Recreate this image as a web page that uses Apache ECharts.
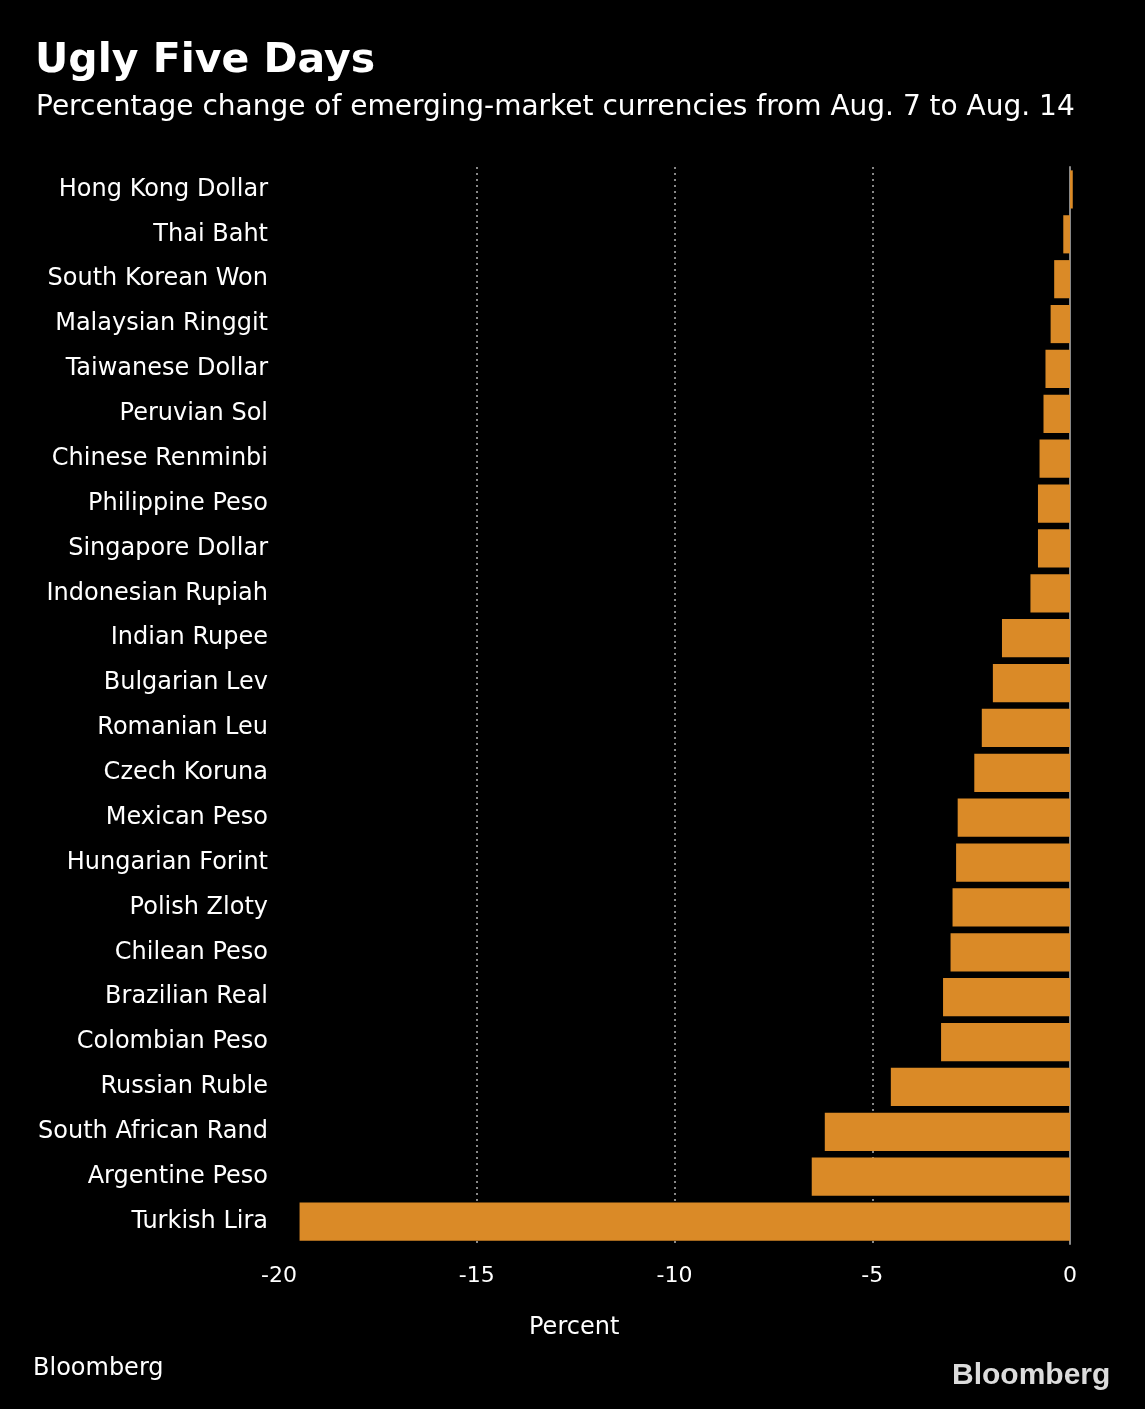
<!DOCTYPE html>
<html>
<head>
    <meta charset="utf-8"/>
    <title>Ugly Five Days</title>
    <script src="https://cdn.jsdelivr.net/npm/echarts@6/dist/echarts.min.js"></script>
    <style>
        html, body { margin: 0; padding: 0; background: #000; }
    </style>
</head>
<body>
<div id="main" style="width: 1145px;height:1409px;"></div>
<script type="text/javascript">
    // currencies, top to bottom as in the picture
    var currencies = [
        'Hong Kong Dollar', 'Thai Baht', 'South Korean Won', 'Malaysian Ringgit',
        'Taiwanese Dollar', 'Peruvian Sol', 'Chinese Renminbi', 'Philippine Peso',
        'Singapore Dollar', 'Indonesian Rupiah', 'Indian Rupee', 'Bulgarian Lev',
        'Romanian Leu', 'Czech Koruna', 'Mexican Peso', 'Hungarian Forint',
        'Polish Zloty', 'Chilean Peso', 'Brazilian Real', 'Colombian Peso',
        'Russian Ruble', 'South African Rand', 'Argentine Peso', 'Turkish Lira'
    ];
    // percent change Aug 7 -> Aug 14
    var changes = [
        0.07, -0.17, -0.40, -0.49,
        -0.62, -0.67, -0.77, -0.81,
        -0.81, -1.00, -1.72, -1.95,
        -2.23, -2.42, -2.84, -2.88,
        -2.97, -3.02, -3.21, -3.26,
        -4.53, -6.20, -6.53, -19.48
    ];
    var xTicks = [-20, -15, -10, -5, 0];

    var font = '"DejaVu Sans", sans-serif';
    var myChart = echarts.init(document.getElementById('main'));
    var option = {
        backgroundColor: '#000',
        animation: false,
        title: [
            {
                text: 'Ugly Five Days',
                left: 30, top: 36,
                textStyle: { color: '#fff', fontSize: 41, fontWeight: 'bold', fontFamily: font }
            },
            {
                text: 'Percentage change of emerging-market currencies from Aug. 7 to Aug. 14',
                left: 31, top: 89,
                textStyle: { color: '#fff', fontSize: 28, fontWeight: 'normal', fontFamily: font }
            }
        ],
        grid: { left: 279, right: 75, top: 167, bottom: 165, containLabel: false },
        xAxis: {
            type: 'value',
            min: xTicks[0], max: xTicks[xTicks.length - 1], interval: 5,
            axisLine: { show: false },
            axisTick: { show: false },
            axisLabel: { color: '#fff', fontSize: 22, fontFamily: font, margin: 21 },
            splitLine: {
                show: true,
                showMinLine: false,
                showMaxLine: false,
                lineStyle: { color: '#888', type: [2, 4], width: 2 }
            }
        },
        yAxis: {
            type: 'category',
            data: currencies,
            inverse: true,
            axisLine: { show: true, onZero: true, lineStyle: { color: '#888', width: 2 } },
            axisTick: { show: false },
            axisLabel: { color: '#fff', fontSize: 24, fontFamily: font, margin: 11 }
        },
        series: [{
            type: 'bar',
            data: changes,
            clip: false,
            barCategoryGap: '15%',
            itemStyle: { color: '#da8a27' }
        }],
        graphic: [
            {
                type: 'text', left: 529, top: 1316,
                style: { text: 'Percent', fill: '#fff', font: '24px ' + font }
            },
            {
                type: 'text', left: 33, top: 1357,
                style: { text: 'Bloomberg', fill: '#fff', font: '24px ' + font }
            },
            {
                type: 'text', left: 952, top: 1361,
                style: { text: 'Bloomberg', fill: '#dcdcdc', font: 'bold 30px "Liberation Sans", Arial, sans-serif' }
            }
        ]
    };
    myChart.setOption(option);
</script>
</body>
</html>
